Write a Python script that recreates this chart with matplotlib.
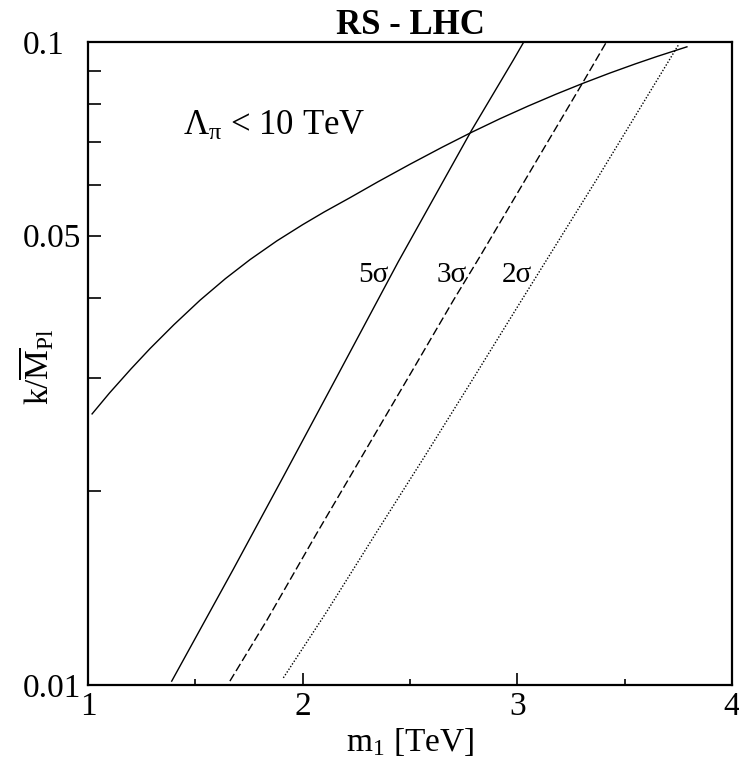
import numpy as np
import matplotlib
matplotlib.use("Agg")
import matplotlib.pyplot as plt
from matplotlib.ticker import FixedLocator, NullFormatter

plt.rcParams['font.family'] = ['Liberation Serif', 'DejaVu Serif']
plt.rcParams['mathtext.fontset'] = 'custom'
plt.rcParams['mathtext.rm'] = 'Liberation Serif'
plt.rcParams['mathtext.it'] = 'Liberation Serif:italic'
plt.rcParams['mathtext.bf'] = 'Liberation Serif:bold'

# Lambda_pi < 10 TeV boundary
lam_m1 = [1.019, 1.10, 1.20, 1.289, 1.40, 1.522, 1.64, 1.755, 1.88, 2.0, 2.10, 2.220,
          2.35, 2.5, 2.65, 2.787, 2.92, 3.05, 3.18, 3.307, 3.43, 3.55, 3.65, 3.79]
lam_k = [0.0264, 0.02845, 0.03101, 0.03336, 0.03633, 0.03967, 0.04285, 0.04588, 0.04906,
         0.05199, 0.0544, 0.05725, 0.0606, 0.06455, 0.06861, 0.07237, 0.0760, 0.07949,
         0.08295, 0.08628, 0.08945, 0.09247, 0.09493, 0.09829]

# 5 sigma discovery reach
s5_m1 = [1.390, 1.677, 1.910, 2.158, 2.345, 2.445, 2.787, 2.981, 3.03]
s5_k = [0.01014, 0.01514, 0.02109, 0.0301, 0.0394, 0.0455, 0.0729, 0.0937, 0.1]

# 3 sigma
s3_m1 = [1.661, 1.832, 2.065, 2.313, 2.515, 2.701, 2.826, 3.105, 3.307, 3.415]
s3_k = [0.01014, 0.01259, 0.0172, 0.0238, 0.0310, 0.0396, 0.0464, 0.0667, 0.0867, 0.1]

# 2 sigma
s2_m1 = [1.910, 2.112, 2.345, 2.562, 2.779, 3.004, 3.136, 3.377, 3.75]
s2_k = [0.01026, 0.0130, 0.0173, 0.0225, 0.0294, 0.0389, 0.0458, 0.0617, 0.0989]

sig_labels = ['5σ', '3σ', '2σ']
sig_x = [2.258, 2.626, 2.928]
sig_y = 0.0423

fig = plt.figure(figsize=(7.39, 7.57), dpi=100)
ax = fig.add_axes([88 / 739, 1 - 685 / 757, (732 - 88) / 739, (685 - 42) / 757])

lw = 1.0
ax.plot(lam_m1, lam_k, color='black', lw=lw)
ax.plot(s5_m1, s5_k, color='black', lw=lw)
ax.plot(s3_m1, s3_k, color='black', lw=lw, linestyle=(0, (6, 2.5)))
ax.plot(s2_m1, s2_k, color='black', lw=lw, linestyle=(0, (1, 1.3)))

ax.set_yscale('log')
ax.set_xlim(1, 4)
ax.set_ylim(0.01, 0.1)

ax.xaxis.set_major_locator(FixedLocator([1, 2, 3, 4]))
ax.xaxis.set_minor_locator(FixedLocator([1.5, 2.5, 3.5]))
ax.set_xticklabels(['1', '2', '3', '4'])
ax.yaxis.set_major_locator(FixedLocator([0.01, 0.05, 0.1]))
ax.yaxis.set_minor_locator(FixedLocator([0.02, 0.03, 0.04, 0.06, 0.07, 0.08, 0.09]))
ax.yaxis.set_minor_formatter(NullFormatter())
ax.set_yticklabels(['0.01', '0.05', '0.1'])

ax.tick_params(axis='x', which='major', direction='in', length=9, width=1.2,
               top=False, labelsize=24, pad=5)
ax.tick_params(axis='x', which='minor', direction='in', length=4.5, width=1.2, top=False)
ax.tick_params(axis='y', which='both', direction='in', length=9, width=1.2,
               right=False, labelsize=24, pad=47)
for lab in ax.get_yticklabels():
    lab.set_horizontalalignment('left')

for sp in ax.spines.values():
    sp.set_linewidth(1.6)

ax.set_xlabel(r'm$_1$ [TeV]', fontsize=24)
ax.xaxis.set_label_coords(0.5, -0.064)
ax.set_ylabel(r'k/$\overline{\mathrm{M}}_{\mathrm{Pl}}$', fontsize=24)
ax.yaxis.set_label_coords(-0.049, 0.496)
ax.set_title('RS - LHC', fontsize=25, fontweight='bold', pad=3)

ax.text(1.442, 0.0716, r'Λ$_{\mathrm{π}}$ < 10 TeV', fontsize=25, ha='left', va='baseline')
for lab, x in zip(sig_labels, sig_x):
    ax.text(x, sig_y, lab, fontsize=21, ha='left', va='baseline')

fig.savefig('out.png', dpi=100)
